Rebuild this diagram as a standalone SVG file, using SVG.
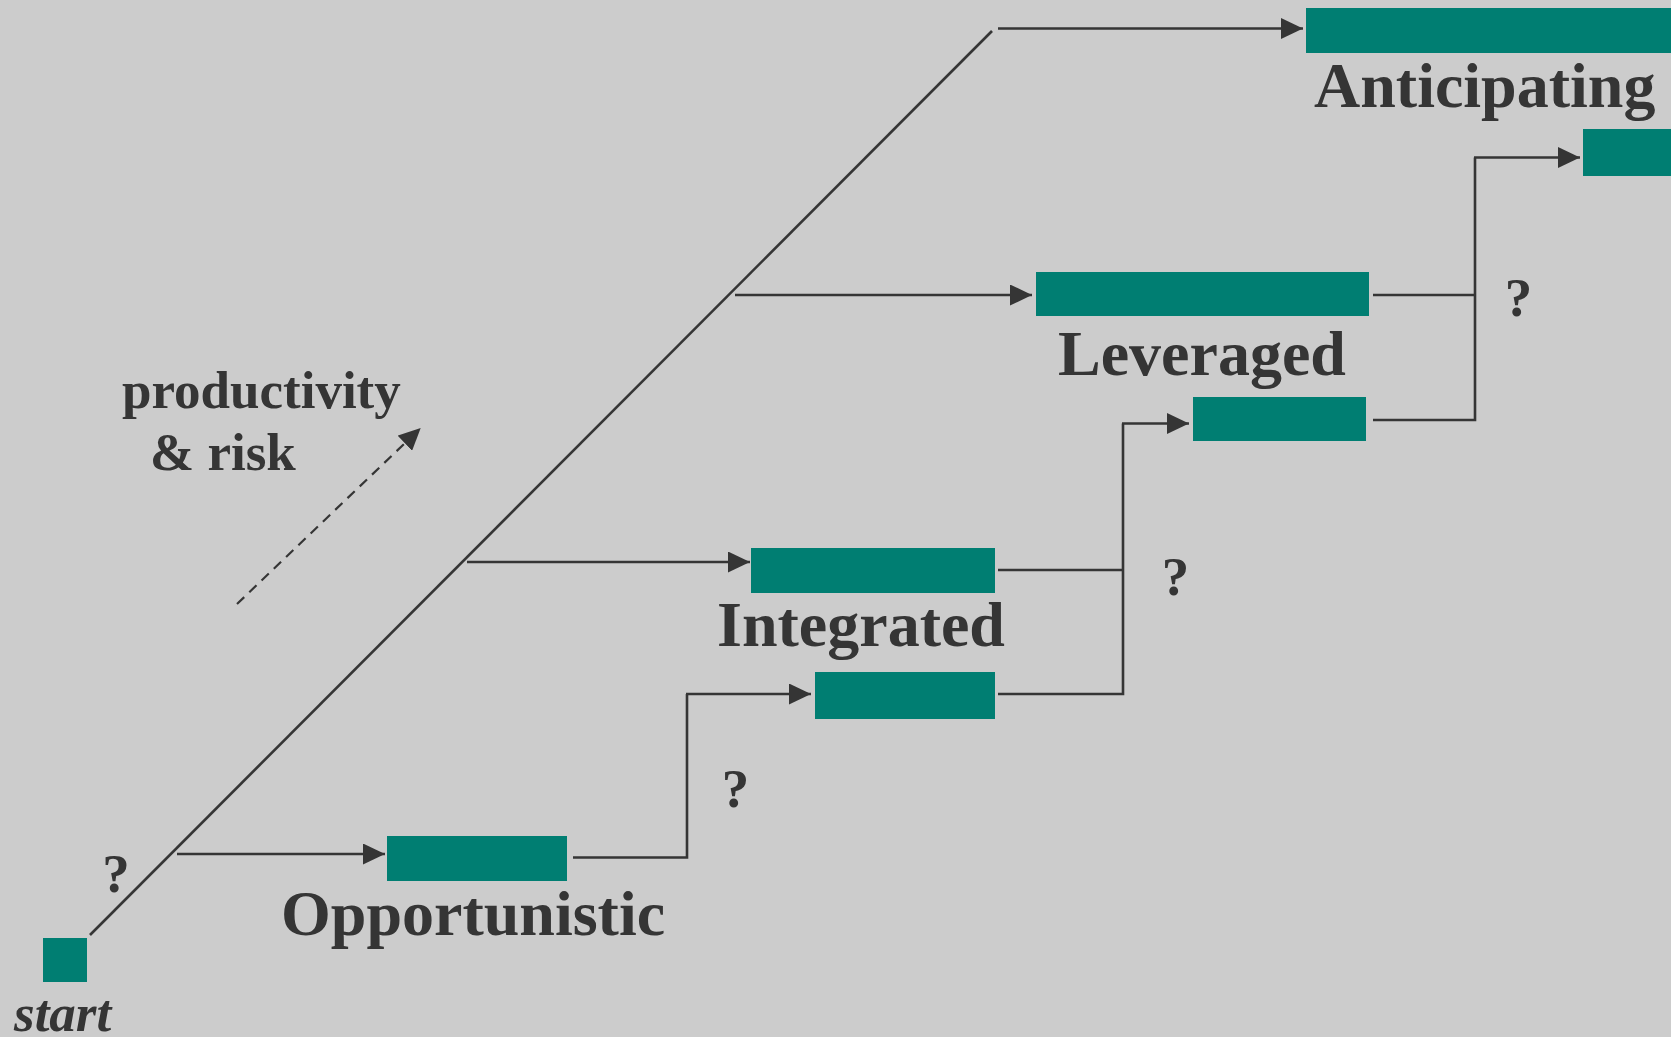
<svg xmlns="http://www.w3.org/2000/svg" width="1671" height="1037" viewBox="0 0 1671 1037">
  <style>
    .bar { fill: #007E72; }
    .wire { fill: none; stroke: #353535; stroke-width: 2.6; }
    .dash { fill: none; stroke: #353535; stroke-width: 2.2; stroke-dasharray: 10 7; }
    .label { font-family: "Liberation Serif", "Times New Roman", serif; font-weight: bold; fill: #353535; }
    .stage { font-size: 64px; }
    .axis { font-size: 53px; }
    .q { font-size: 55px; text-anchor: middle; }
    .start { font-size: 53px; font-style: italic; }
  </style>
  <defs>
    <marker id="head" markerUnits="userSpaceOnUse" markerWidth="22" markerHeight="21" refX="22" refY="10.5" orient="auto">
      <path d="M0,0 L22,10.5 L0,21 Z" fill="#353535"/>
    </marker>
  </defs>

  <rect x="0" y="0" width="1671" height="1037" fill="#CCCCCC"/>

  <!-- connectors -->
  <g id="connectors">
    <!-- main growth diagonal -->
    <line class="wire" x1="90" y1="935" x2="992" y2="31"/>
    <!-- branches off the diagonal -->
    <line class="wire" x1="177" y1="854" x2="385" y2="854" marker-end="url(#head)"/>
    <line class="wire" x1="467" y1="562" x2="750" y2="562" marker-end="url(#head)"/>
    <line class="wire" x1="735" y1="295" x2="1032" y2="295" marker-end="url(#head)"/>
    <line class="wire" x1="998" y1="28.5" x2="1303" y2="28.5" marker-end="url(#head)"/>
    <!-- step: opportunistic to integrated -->
    <polyline class="wire" points="573,857.5 687,857.5 687,694"/>
    <line class="wire" x1="686" y1="694" x2="811" y2="694" marker-end="url(#head)"/>
    <!-- step: integrated to leveraged -->
    <polyline class="wire" points="998,570 1123,570"/>
    <polyline class="wire" points="998,694 1123,694 1123,423.5"/>
    <line class="wire" x1="1122" y1="423.5" x2="1189" y2="423.5" marker-end="url(#head)"/>
    <!-- step: leveraged to anticipating -->
    <polyline class="wire" points="1373,295 1475,295"/>
    <polyline class="wire" points="1373,420 1475,420 1475,157.5"/>
    <line class="wire" x1="1474" y1="157.5" x2="1580" y2="157.5" marker-end="url(#head)"/>
    <!-- productivity & risk direction -->
    <line class="dash" x1="237" y1="604" x2="420.7" y2="428" marker-end="url(#head)"/>
  </g>

  <!-- nodes -->
  <g id="start">
    <rect class="bar" x="43" y="938" width="44" height="44"/>
    <text class="label start" x="14" y="1031">start</text>
  </g>

  <g id="opportunistic">
    <rect class="bar" x="387" y="836" width="180" height="45"/>
    <text class="label stage" x="281" y="935">Opportunistic</text>
  </g>

  <g id="integrated">
    <rect class="bar" x="751" y="548" width="244" height="45"/>
    <rect class="bar" x="815" y="672" width="180" height="47"/>
    <text class="label stage" x="717" y="646">Integrated</text>
  </g>

  <g id="leveraged">
    <rect class="bar" x="1036" y="272" width="333" height="44"/>
    <rect class="bar" x="1193" y="397" width="173" height="44"/>
    <text class="label stage" x="1058" y="375">Leveraged</text>
  </g>

  <g id="anticipating">
    <rect class="bar" x="1306" y="8" width="365" height="45"/>
    <rect class="bar" x="1583" y="129" width="88" height="47"/>
    <text class="label stage" x="1314" y="107">Anticipating</text>
  </g>

  <g id="axis-label">
    <text class="label axis" x="122" y="408">productivity</text>
    <text class="label axis" x="150" y="470">&amp; risk</text>
  </g>

  <g id="questions">
    <text class="label q" x="116" y="892">?</text>
    <text class="label q" x="735.5" y="807">?</text>
    <text class="label q" x="1175.5" y="595">?</text>
    <text class="label q" x="1518.5" y="316">?</text>
  </g>
</svg>
